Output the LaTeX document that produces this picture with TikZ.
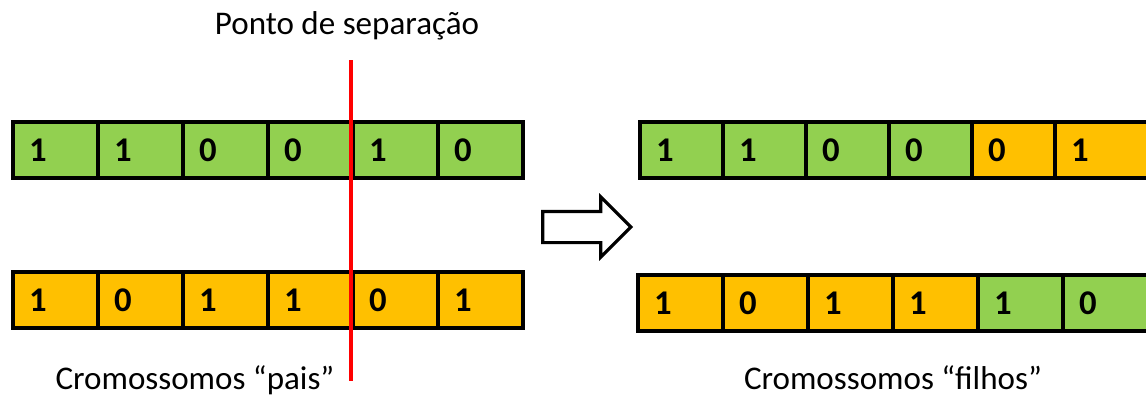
\documentclass[tikz,border=0pt]{standalone}
\usepackage{fontspec}
\setmainfont{Carlito}
\usetikzlibrary{shapes.arrows}
\definecolor{genegreen}{HTML}{92D050}
\definecolor{geneorange}{HTML}{FFC000}
\definecolor{cutred}{HTML}{FF0000}

\begin{document}
\begin{tikzpicture}[
  x=0.75pt, y=-0.75pt,
  gene/.style={draw=black, line width=2.4pt, outer sep=0pt, inner xsep=12pt, inner ysep=0pt,
    minimum height=42pt, text width=#1, align=left, font=\fontsize{26}{26}\selectfont\bfseries},
  gene/.default=39.75pt,
  caption/.style={anchor=base, font=\fontsize{24.8}{28}\selectfont},
  seta/.style={single arrow, draw=black, line width=2.4pt, fill=white, inner xsep=0pt,
    inner ysep=10.5pt, minimum height=66pt, single arrow head extend=10.9pt}
]
\useasboundingbox (0,0) rectangle (1146,396);

% Parent chromosomes
\foreach \bit [count=\i] in {1,1,0,0,1,0}
  \node[gene, fill=genegreen] (pa-\i) at ({13+85*(\i-0.5)},150) {\bit};
\foreach \bit [count=\i] in {1,0,1,1,0,1}
  \node[gene, fill=geneorange] (pb-\i) at ({13+85*(\i-0.5)},300) {\bit};

% Crossover point
\coordinate (corte-a) at (351,60);
\coordinate (corte-b) at (351,381);
\draw[cutred, line width=2.3pt] (corte-a) -- (corte-b);

% Offspring chromosomes
\foreach \bit/\cor [count=\i] in {1/genegreen,1/genegreen,0/genegreen,0/genegreen,0/geneorange}
  \node[gene=38.25pt, fill=\cor] (fa-\i) at ({640+83*(\i-0.5)},150) {\bit};
\node[gene=54.75pt, fill=geneorange] (fa-6) at (1107.5,150) {1};
\foreach \bit/\cor [count=\i] in {1/geneorange,0/geneorange,1/geneorange,1/geneorange,1/genegreen,0/genegreen}
  \node[gene, fill=\cor] (fb-\i) at ({638+85*(\i-0.5)},303) {\bit};

% Block arrow between the two groups
\node[seta] (seta) at (579,227) {};

% Captions
\node[caption] (ponto) at (347,34) {Ponto de separação};
\node[caption] (pais) at (195,389) {Cromossomos “pais”};
\node[caption] (filhos) at (893,389) {Cromossomos “filhos”};

\end{tikzpicture}
\end{document}
